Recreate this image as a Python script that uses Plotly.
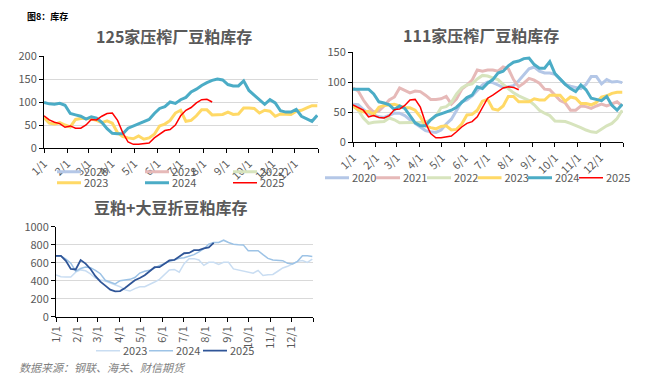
import plotly.graph_objects as go

W, H = 648, 388

# ---------------- data ----------------
month_labels = ['1/1', '2/1', '3/1', '4/1', '5/1', '6/1', '7/1', '8/1', '9/1', '10/1', '11/1', '12/1']
month_days = [0, 31, 59, 90, 120, 151, 181, 212, 243, 273, 304, 334]
years = ['2020', '2021', '2022', '2023', '2024', '2025']

# 125家压榨厂豆粕库存 (weekly, 万吨)
s125_2020 = []
s125_2021 = []
s125_2022 = []
s125_2023 = [66, 54, 52, 55, 50, 46, 62, 64, 64, 63, 60, 55, 59, 54, 33, 25, 22, 20, 26, 19, 22, 30, 48, 52, 60,
             76, 82, 58, 60, 70, 83, 83, 72, 72, 73, 78, 73, 74, 87, 87, 86, 76, 82, 80, 69, 74, 74, 73, 80, 82,
             87, 92, 92]
s125_2024 = [99, 96, 95, 97, 93, 75, 72, 69, 63, 68, 65, 56, 42, 32, 31, 31, 43, 48, 53, 57, 62, 75, 86, 90, 100,
             97, 105, 110, 122, 128, 136, 142, 147, 150, 148, 138, 135, 135, 146, 125, 115, 104, 95, 105, 98, 81,
             78, 78, 84, 69, 64, 58, 71]
s125_2025 = [70, 61, 56, 53, 45, 48, 43, 43, 50, 62, 61, 69, 75, 76, 60, 33, 13, 8, 8, 10, 11, 22, 30, 38, 40, 50,
             70, 82, 88, 98, 105, 106, 100]

# 111家压榨厂豆粕库存
s111_2020 = [63, 62, 54, 48, 45, 42, 41, 45, 48, 48, 44, 37, 31, 24, 19, 17, 16, 20, 30, 38, 53, 67, 70, 77, 86,
             95, 100, 99, 95, 91, 92, 94, 102, 112, 122, 125, 118, 115, 115, 113, 104, 96, 93, 91, 89, 96, 109,
             109, 97, 104, 100, 101, 99]
s111_2021 = [90, 85, 70, 58, 50, 52, 60, 70, 75, 90, 86, 82, 85, 84, 78, 71, 71, 72, 76, 63, 72, 88, 95, 103, 120,
             118, 120, 120, 118, 125, 122, 104, 92, 98, 106, 103, 98, 88, 87, 78, 69, 65, 53, 53, 60, 59, 56, 60,
             63, 60, 64, 67, 60]
s111_2022 = [60, 53, 40, 31, 33, 34, 34, 40, 37, 32, 32, 32, 32, 32, 33, 37, 43, 57, 59, 66, 80, 90, 95, 97, 105,
             111, 110, 107, 104, 96, 89, 82, 77, 73, 69, 62, 53, 48, 44, 35, 35, 34, 31, 28, 24, 20, 17, 16, 22,
             27, 31, 39, 53]
s111_2023 = [60, 54, 50, 51, 46, 58, 61, 62, 63, 60, 57, 57, 53, 42, 27, 24, 22, 26, 27, 20, 21, 30, 45, 46, 53,
             68, 71, 55, 53, 60, 76, 76, 67, 67, 67, 72, 70, 70, 78, 78, 78, 68, 75, 73, 64, 64, 62, 66, 75, 77,
             81, 83, 83]
s111_2024 = [88, 88, 88, 88, 80, 67, 65, 62, 54, 60, 56, 43, 32, 27, 27, 37, 44, 47, 50, 53, 58, 66, 74, 78, 92,
             89, 98, 104, 115, 118, 127, 133, 135, 139, 140, 129, 123, 123, 134, 114, 105, 96, 89, 84, 95, 87, 73,
             71, 69, 76, 61, 53, 63]
s111_2025 = [62, 57, 53, 42, 44, 41, 40, 44, 54, 55, 61, 70, 71, 58, 32, 14, 7, 7, 8, 10, 17, 25, 31, 34, 42, 58,
             73, 78, 84, 90, 92, 91, 87]

# 豆粕+大豆折豆粕库存
tot_2023 = [465, 445, 442, 442, 495, 520, 510, 475, 430, 408, 396, 372, 352, 333, 298, 285, 312, 332, 333, 355,
            385, 415, 470, 520, 525, 494, 590, 645, 645, 630, 570, 604, 604, 580, 604, 604, 531, 520, 502, 491,
            484, 513, 458, 465, 469, 505, 542, 560, 586, 615, 623, 604, 641]
tot_2024 = [675, 675, 640, 595, 505, 535, 553, 545, 515, 478, 405, 385, 365, 400, 405, 415, 435, 485, 505, 515,
            540, 570, 590, 615, 630, 650, 656, 670, 690, 720, 755, 806, 824, 824, 850, 824, 806, 800, 798, 733,
            733, 733, 689, 648, 630, 630, 623, 593, 586, 615, 678, 678, 670]
tot_2025 = [675, 675, 620, 530, 525, 630, 590, 530, 450, 390, 345, 300, 282, 285, 320, 365, 405, 430, 460, 505,
            550, 550, 585, 625, 630, 665, 705, 708, 740, 740, 760, 770, 820]

# ---------------- styles ----------------
FONT = 'Microsoft YaHei, Noto Sans CJK SC, sans-serif'
TXT = '#595959'
col_main = {'2020': '#B4C7E7', '2021': '#E6B9B8', '2022': '#D7E4BD',
            '2023': '#FFD966', '2024': '#4BACC6', '2025': '#FF0000'}
w_main = {'2020': 3, '2021': 3, '2022': 3, '2023': 3, '2024': 3, '2025': 1.5}
col_tot = {'2023': '#C9DDF2', '2024': '#9DC3E6', '2025': '#2F5597'}
w_tot = {'2023': 1.5, '2024': 1.5, '2025': 1.8}


def days(vals):
    return [7 * i for i in range(len(vals))]


fig = go.Figure()
legend_cfg = {}
counter = [0]


def new_legend(text_x, center_y):
    counter[0] += 1
    name = 'legend' if counter[0] == 1 else 'legend%d' % counter[0]
    legend_cfg[name] = dict(x=(text_x - 40) / W, y=1 - center_y / H, xanchor='left', yanchor='middle',
                            orientation='h', bgcolor='rgba(0,0,0,0)', borderwidth=0,
                            font=dict(family=FONT, size=11, color=TXT), itemwidth=30)
    return name


# chart 1
c1 = {'2020': s125_2020, '2021': s125_2021, '2022': s125_2022,
      '2023': s125_2023, '2024': s125_2024, '2025': s125_2025}
leg1_pos = {'2020': (84, 171.7), '2021': (172, 171.7), '2022': (260, 171.7),
            '2023': (84, 182.7), '2024': (172, 182.7), '2025': (260, 182.7)}
for y in years:
    lg = new_legend(*leg1_pos[y])
    vals = c1[y]
    fig.add_trace(go.Scatter(x=days(vals) or [0], y=vals or [None], name=y, mode='lines', xaxis='x', yaxis='y',
                             line=dict(color=col_main[y], width=w_main[y]), legend=lg, showlegend=True,
                             hoverinfo='skip'))

# chart 2
c2 = {'2020': s111_2020, '2021': s111_2021, '2022': s111_2022,
      '2023': s111_2023, '2024': s111_2024, '2025': s111_2025}
leg2_x = {'2020': 352, '2021': 403, '2022': 454, '2023': 504.5, '2024': 555, '2025': 606}
for y in years:
    lg = new_legend(leg2_x[y], 177.7)
    fig.add_trace(go.Scatter(x=days(c2[y]), y=c2[y], name=y, mode='lines', xaxis='x2', yaxis='y2',
                             line=dict(color=col_main[y], width=w_main[y]), legend=lg, showlegend=True,
                             hoverinfo='skip'))

# chart 3
c3 = {'2023': tot_2023, '2024': tot_2024, '2025': tot_2025}
leg3_x = {'2023': 123, '2024': 176, '2025': 230}
for y in ['2023', '2024', '2025']:
    lg = new_legend(leg3_x[y], 350.7)
    fig.add_trace(go.Scatter(x=days(c3[y]), y=c3[y], name=y, mode='lines', xaxis='x3', yaxis='y3',
                             line=dict(color=col_tot[y], width=w_tot[y]), legend=lg, showlegend=True,
                             hoverinfo='skip'))

tickfont = dict(family=FONT, size=11, color=TXT)


def xax(domain, anchor, angle):
    return dict(domain=domain, anchor=anchor, range=[0, 365], tickmode='array',
                tickvals=month_days + [365], ticktext=month_labels + [''], tickangle=angle,
                showgrid=False, zeroline=False, showline=True, linecolor='#000000', linewidth=1,
                ticks='outside', ticklen=4, tickcolor='#000000', tickfont=tickfont, fixedrange=True,
                automargin=False)


def yax(domain, anchor, rng, dtick):
    return dict(domain=domain, anchor=anchor, range=rng, dtick=dtick, tick0=0,
                showgrid=True, gridcolor='#D9D9D9', gridwidth=1, zeroline=False,
                showline=True, linecolor='#000000', linewidth=1, ticks='outside', ticklen=4,
                tickcolor='#000000', tickfont=tickfont, fixedrange=True, automargin=False)


fig.update_layout(
    template='none',
    showlegend=True,
    width=W, height=H, autosize=False,
    margin=dict(l=0, r=0, t=0, b=0, pad=0),
    paper_bgcolor='#FFFFFF', plot_bgcolor='#FFFFFF',
    font=dict(family=FONT, color=TXT),
    xaxis=xax([44 / W, 318 / W], 'y', -45),
    yaxis=yax([1 - 148 / H, 1 - 56 / H], 'x', [0, 200], 50),
    xaxis2=xax([353 / W, 623 / W], 'y2', -45),
    yaxis2=yax([1 - 142 / H, 1 - 52 / H], 'x2', [0, 150], 50),
    xaxis3=xax([56 / W, 313 / W], 'y3', -90),
    yaxis3=yax([1 - 316.7 / H, 1 - 226.7 / H], 'x3', [0, 1000], 200),
    **legend_cfg
)

ann = [
    dict(text='<b>图8：库存</b>', x=25 / W, y=1 - 16.7 / H, xanchor='left', yanchor='middle',
         font=dict(family=FONT, size=9, color='#000000')),
    dict(text='<b>125家压榨厂豆粕库存</b>', x=174 / W, y=1 - 36 / H, xanchor='center', yanchor='middle',
         font=dict(family=FONT, size=16, color=TXT)),
    dict(text='<b>111家压榨厂豆粕库存</b>', x=480.5 / W, y=1 - 35 / H, xanchor='center', yanchor='middle',
         font=dict(family=FONT, size=16, color=TXT)),
    dict(text='<b>豆粕+大豆折豆粕库存</b>', x=170.8 / W, y=1 - 206.7 / H, xanchor='center', yanchor='middle',
         font=dict(family=FONT, size=16, color=TXT)),
    dict(text='<i>数据来源：钢联、海关、财信期货</i>', x=17 / W, y=1 - 366.7 / H, xanchor='left',
         yanchor='middle', font=dict(family=FONT, size=11, color='#7F7F7F')),
]
for a in ann:
    a.update(xref='paper', yref='paper', showarrow=False)
fig.update_layout(annotations=ann)

post = """
document.body.style.margin = '0';
var gd = document.getElementById('{plot_id}');
gd.querySelectorAll('g.legendlines path').forEach(function(p){ p.setAttribute('d', 'M13,0h24'); });
"""

fig.write_html('out.html', config={'displayModeBar': False, 'responsive': False}, post_script=post)
